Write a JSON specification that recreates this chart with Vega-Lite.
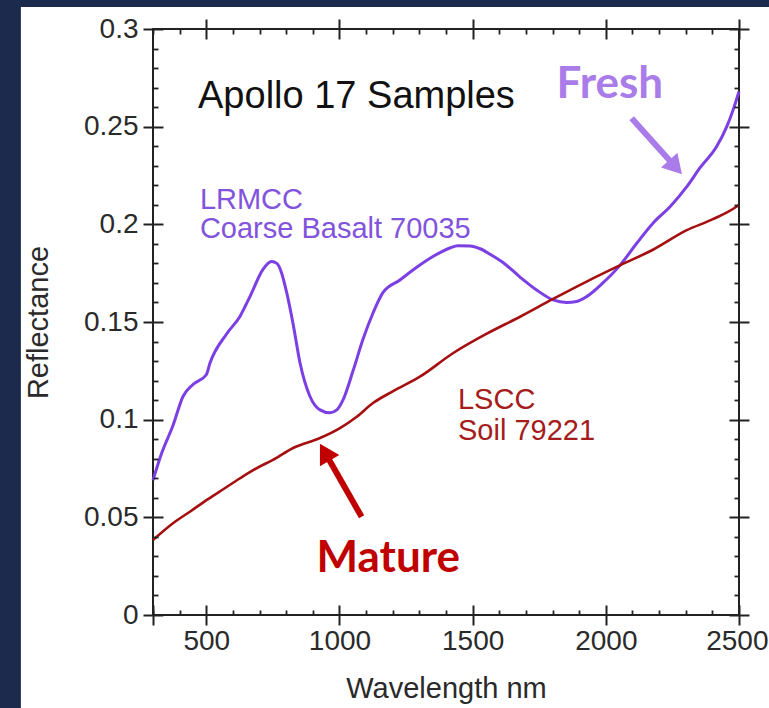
{
  "$schema": "https://vega.github.io/schema/vega-lite/v6.json",
  "width": 586,
  "height": 586,
  "autosize": {"type": "none"},
  "padding": {"left": 153, "top": 29, "right": 30, "bottom": 93},
  "background": "#1b2a4d",
  "config": {
    "view": {"stroke": null},
    "axis": {
      "grid": false,
      "domain": false,
      "tickColor": "#222222",
      "labelFont": "Liberation Sans",
      "titleFont": "Liberation Sans",
      "labelColor": "#2a2a2a",
      "titleColor": "#2a2a2a",
      "titleFontWeight": "normal"
    }
  },
  "datasets": {
    "basalt": [
      {"wavelength": 300, "reflectance": 0.069},
      {"wavelength": 333, "reflectance": 0.083},
      {"wavelength": 375, "reflectance": 0.097},
      {"wavelength": 413, "reflectance": 0.112},
      {"wavelength": 450, "reflectance": 0.118},
      {"wavelength": 500, "reflectance": 0.123},
      {"wavelength": 514, "reflectance": 0.129},
      {"wavelength": 577, "reflectance": 0.144},
      {"wavelength": 627, "reflectance": 0.153},
      {"wavelength": 664, "reflectance": 0.163},
      {"wavelength": 713, "reflectance": 0.177},
      {"wavelength": 745, "reflectance": 0.181},
      {"wavelength": 765, "reflectance": 0.18},
      {"wavelength": 783, "reflectance": 0.175},
      {"wavelength": 802, "reflectance": 0.165},
      {"wavelength": 826, "reflectance": 0.149},
      {"wavelength": 852, "reflectance": 0.129},
      {"wavelength": 889, "reflectance": 0.112},
      {"wavelength": 927, "reflectance": 0.105},
      {"wavelength": 964, "reflectance": 0.1035},
      {"wavelength": 990, "reflectance": 0.105},
      {"wavelength": 1013, "reflectance": 0.11},
      {"wavelength": 1051, "reflectance": 0.125},
      {"wavelength": 1088, "reflectance": 0.141},
      {"wavelength": 1126, "reflectance": 0.1546},
      {"wavelength": 1163, "reflectance": 0.165},
      {"wavelength": 1227, "reflectance": 0.1715},
      {"wavelength": 1290, "reflectance": 0.178},
      {"wavelength": 1351, "reflectance": 0.1835},
      {"wavelength": 1415, "reflectance": 0.1879},
      {"wavelength": 1445, "reflectance": 0.189},
      {"wavelength": 1490, "reflectance": 0.1889},
      {"wavelength": 1528, "reflectance": 0.1875},
      {"wavelength": 1576, "reflectance": 0.1838},
      {"wavelength": 1614, "reflectance": 0.1805},
      {"wavelength": 1678, "reflectance": 0.173},
      {"wavelength": 1740, "reflectance": 0.1664},
      {"wavelength": 1802, "reflectance": 0.1613},
      {"wavelength": 1853, "reflectance": 0.16},
      {"wavelength": 1890, "reflectance": 0.1605},
      {"wavelength": 1928, "reflectance": 0.163},
      {"wavelength": 1989, "reflectance": 0.17},
      {"wavelength": 2053, "reflectance": 0.179},
      {"wavelength": 2116, "reflectance": 0.1903},
      {"wavelength": 2177, "reflectance": 0.2006},
      {"wavelength": 2241, "reflectance": 0.209},
      {"wavelength": 2304, "reflectance": 0.2193},
      {"wavelength": 2354, "reflectance": 0.229},
      {"wavelength": 2416, "reflectance": 0.2398},
      {"wavelength": 2454, "reflectance": 0.25},
      {"wavelength": 2478, "reflectance": 0.2586},
      {"wavelength": 2500, "reflectance": 0.268}
    ],
    "soil": [
      {"wavelength": 300, "reflectance": 0.0384},
      {"wavelength": 375, "reflectance": 0.047},
      {"wavelength": 440, "reflectance": 0.053},
      {"wavelength": 502, "reflectance": 0.0589},
      {"wavelength": 565, "reflectance": 0.0645},
      {"wavelength": 627, "reflectance": 0.07},
      {"wavelength": 690, "reflectance": 0.0752},
      {"wavelength": 750, "reflectance": 0.0794},
      {"wavelength": 826, "reflectance": 0.0855},
      {"wavelength": 927, "reflectance": 0.0906},
      {"wavelength": 1002, "reflectance": 0.0957},
      {"wavelength": 1065, "reflectance": 0.1015},
      {"wavelength": 1126, "reflectance": 0.1085},
      {"wavelength": 1200, "reflectance": 0.1145},
      {"wavelength": 1302, "reflectance": 0.122},
      {"wavelength": 1426, "reflectance": 0.134},
      {"wavelength": 1553, "reflectance": 0.144},
      {"wavelength": 1678, "reflectance": 0.1527},
      {"wavelength": 1802, "reflectance": 0.1618},
      {"wavelength": 1928, "reflectance": 0.1707},
      {"wavelength": 2053, "reflectance": 0.179},
      {"wavelength": 2177, "reflectance": 0.187},
      {"wavelength": 2304, "reflectance": 0.197},
      {"wavelength": 2400, "reflectance": 0.2025},
      {"wavelength": 2490, "reflectance": 0.209},
      {"wavelength": 2500, "reflectance": 0.21}
    ]
  },
  "resolve": {"axis": {"x": "independent", "y": "independent"}},
  "layer": [
    {
      "description": "white panel behind the plot, with the inner tick marks on top and right",
      "data": {"values": [{}]},
      "mark": {"type": "rect", "color": "#ffffff", "clip": false},
      "encoding": {
        "x": {"datum": -196, "type": "quantitative", "scale": {"domain": [300, 2500], "nice": false, "zero": false},
          "axis": {"orient": "top", "zindex": 1, "values": [300,400,600,700,800,900,1100,1200,1300,1400,1600,1700,1800,1900,2100,2200,2300,2400], "tickSize": 5, "offset": -5, "tickWidth": 1.8, "labels": false, "title": null}},
        "x2": {"datum": 2700},
        "y": {"datum": 0.3113, "type": "quantitative", "scale": {"domain": [0, 0.3], "nice": false, "zero": false},
          "axis": {"orient": "right", "zindex": 1, "values": [0.01,0.02,0.03,0.04,0.06,0.07,0.08,0.09,0.11,0.12,0.13,0.14,0.16,0.17,0.18,0.19,0.21,0.22,0.23,0.24,0.26,0.27,0.28,0.29], "tickSize": 5, "offset": -5, "tickWidth": 1.8, "labels": false, "title": null}},
        "y2": {"datum": -0.06}
      }
    },
    {
      "description": "plot frame with the inner tick marks on bottom and left",
      "data": {"values": [{}]},
      "mark": {"type": "rect", "filled": false, "stroke": "#222222", "strokeWidth": 2, "clip": false},
      "encoding": {
        "x": {"datum": 300, "type": "quantitative", "scale": {"domain": [300, 2500], "nice": false, "zero": false},
          "axis": {"orient": "bottom", "zindex": 1, "values": [300,400,600,700,800,900,1100,1200,1300,1400,1600,1700,1800,1900,2100,2200,2300,2400], "tickSize": 5, "offset": -5, "tickWidth": 1.8, "labels": false, "title": null}},
        "x2": {"datum": 2500},
        "y": {"datum": 0.3, "type": "quantitative", "scale": {"domain": [0, 0.3], "nice": false, "zero": false},
          "axis": {"orient": "left", "zindex": 1, "values": [0.01,0.02,0.03,0.04,0.06,0.07,0.08,0.09,0.11,0.12,0.13,0.14,0.16,0.17,0.18,0.19,0.21,0.22,0.23,0.24,0.26,0.27,0.28,0.29], "tickSize": 5, "offset": -5, "tickWidth": 1.8, "labels": false, "title": null}},
        "y2": {"datum": 0}
      }
    },
    {
      "description": "LRMCC coarse basalt 70035 spectrum, with the labelled bottom and left axes",
      "data": {"name": "basalt"},
      "mark": {"type": "line", "color": "#7b3fe4", "strokeWidth": 3, "interpolate": "monotone"},
      "encoding": {
        "x": {"field": "wavelength", "type": "quantitative", "scale": {"domain": [300, 2500], "nice": false, "zero": false},
          "axis": {"orient": "bottom", "zindex": 1, "values": [300, 500, 1000, 1500, 2000, 2500], "tickSize": 20, "offset": -10, "tickWidth": 2,
            "labelExpr": "datum.value == 300 ? '' : datum.label", "format": "d",
            "labelAlign": {"condition": {"test": "datum.value == 2500", "value": "right"}, "value": "center"},
            "labelOffset": {"condition": {"test": "datum.value == 2500", "value": 29}, "value": 0},
            "labelFontSize": 28, "labelPadding": 2, "labelFlush": false, "labelOverlap": false,
            "title": "Wavelength nm", "titleFontSize": 29, "titlePadding": 19}},
        "y": {"field": "reflectance", "type": "quantitative", "scale": {"domain": [0, 0.3], "nice": false, "zero": false},
          "axis": {"orient": "left", "zindex": 1, "values": [0, 0.05, 0.1, 0.15, 0.2, 0.25, 0.3], "tickSize": 20, "offset": -10, "tickWidth": 2,
            "format": "~g", "labelFontSize": 28, "labelPadding": 5, "labelFlush": false, "labelOverlap": false,
            "title": "Reflectance", "titleFontSize": 29, "titlePadding": 30}}
      }
    },
    {
      "description": "LSCC soil 79221 spectrum, with the top and right axes",
      "data": {"name": "soil"},
      "mark": {"type": "line", "color": "#a50f0f", "strokeWidth": 2.6, "interpolate": "monotone"},
      "encoding": {
        "x": {"field": "wavelength", "type": "quantitative", "scale": {"domain": [300, 2500], "nice": false, "zero": false},
          "axis": {"orient": "top", "zindex": 1, "values": [500, 1000, 1500, 2000, 2500], "tickSize": 20, "offset": -10, "tickWidth": 2, "labels": false, "title": null}},
        "y": {"field": "reflectance", "type": "quantitative", "scale": {"domain": [0, 0.3], "nice": false, "zero": false},
          "axis": {"orient": "right", "zindex": 1, "values": [0, 0.05, 0.1, 0.15, 0.2, 0.25, 0.3], "tickSize": 20, "offset": -10, "tickWidth": 2, "labels": false, "title": null}}
      }
    },
    {
      "data": {"values": [{}]},
      "mark": {"type": "text", "text": "Apollo 17 Samples", "align": "left", "baseline": "alphabetic", "font": "Liberation Sans", "fontSize": 38, "color": "#111111"},
      "encoding": {"x": {"datum": 469, "type": "quantitative", "axis": null}, "y": {"datum": 0.2596, "type": "quantitative", "axis": null}}
    },
    {
      "data": {"values": [{}]},
      "mark": {"type": "text", "text": "LRMCC", "align": "left", "baseline": "alphabetic", "font": "Liberation Sans", "fontSize": 29, "color": "#8253dc"},
      "encoding": {"x": {"datum": 476, "type": "quantitative", "axis": null}, "y": {"datum": 0.2079, "type": "quantitative", "axis": null}}
    },
    {
      "data": {"values": [{}]},
      "mark": {"type": "text", "text": "Coarse Basalt 70035", "align": "left", "baseline": "alphabetic", "font": "Liberation Sans", "fontSize": 29, "color": "#8253dc"},
      "encoding": {"x": {"datum": 476, "type": "quantitative", "axis": null}, "y": {"datum": 0.193, "type": "quantitative", "axis": null}}
    },
    {
      "data": {"values": [{}]},
      "mark": {"type": "text", "text": "LSCC", "align": "left", "baseline": "alphabetic", "font": "Liberation Sans", "fontSize": 29, "color": "#a51c1c"},
      "encoding": {"x": {"datum": 1445, "type": "quantitative", "axis": null}, "y": {"datum": 0.1055, "type": "quantitative", "axis": null}}
    },
    {
      "data": {"values": [{}]},
      "mark": {"type": "text", "text": "Soil 79221", "align": "left", "baseline": "alphabetic", "font": "Liberation Sans", "fontSize": 29, "color": "#a51c1c"},
      "encoding": {"x": {"datum": 1445, "type": "quantitative", "axis": null}, "y": {"datum": 0.0896, "type": "quantitative", "axis": null}}
    },
    {
      "data": {"values": [{}]},
      "mark": {"type": "text", "text": "Fresh", "align": "left", "baseline": "alphabetic", "font": "Lato", "fontWeight": "bold", "fontSize": 44, "color": "#a97ce9"},
      "encoding": {"x": {"datum": 1815, "type": "quantitative", "axis": null}, "y": {"datum": 0.2647, "type": "quantitative", "axis": null}}
    },
    {
      "data": {"values": [{}]},
      "mark": {"type": "text", "text": "Mature", "align": "left", "baseline": "alphabetic", "font": "Lato", "fontWeight": "bold", "fontSize": 44, "color": "#c00000"},
      "encoding": {"x": {"datum": 914, "type": "quantitative", "axis": null}, "y": {"datum": 0.0222, "type": "quantitative", "axis": null}}
    },
    {
      "description": "arrow pointing at the fresh basalt curve",
      "data": {"values": [{}]},
      "mark": {"type": "rule", "color": "#a97ce9", "strokeWidth": 6},
      "encoding": {
        "x": {"datum": 2097, "type": "quantitative", "axis": null}, "x2": {"datum": 2254},
        "y": {"datum": 0.2543, "type": "quantitative", "axis": null}, "y2": {"datum": 0.2305}
      }
    },
    {
      "data": {"values": [{}]},
      "mark": {"type": "point", "shape": "triangle", "filled": true, "opacity": 1, "color": "#a97ce9", "size": 484, "angle": 138},
      "encoding": {"x": {"datum": 2254, "type": "quantitative", "axis": null}, "y": {"datum": 0.2305, "type": "quantitative", "axis": null}}
    },
    {
      "description": "arrow pointing at the mature soil curve",
      "data": {"values": [{}]},
      "mark": {"type": "rule", "color": "#c00000", "strokeWidth": 6},
      "encoding": {
        "x": {"datum": 1083, "type": "quantitative", "axis": null}, "x2": {"datum": 951},
        "y": {"datum": 0.0503, "type": "quantitative", "axis": null}, "y2": {"datum": 0.0819}
      }
    },
    {
      "data": {"values": [{}]},
      "mark": {"type": "point", "shape": "triangle", "filled": true, "opacity": 1, "color": "#c00000", "size": 500, "angle": 330},
      "encoding": {"x": {"datum": 951, "type": "quantitative", "axis": null}, "y": {"datum": 0.0819, "type": "quantitative", "axis": null}}
    }
  ]
}
